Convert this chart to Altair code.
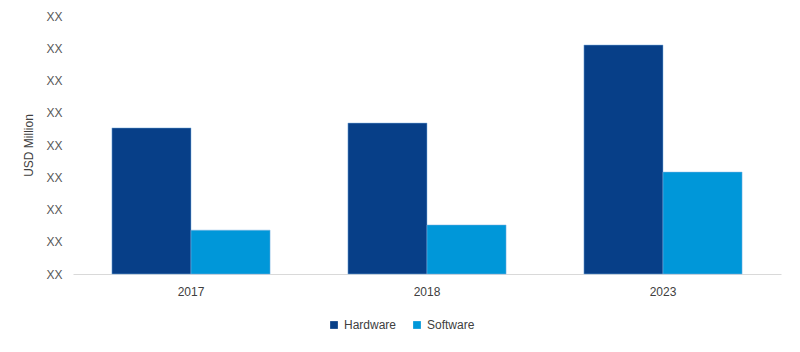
import altair as alt
import pandas as pd

years = ["2017", "2018", "2023"]
hardware = [4.53, 4.68, 7.10]
software = [1.36, 1.52, 3.16]
segments = ["Hardware", "Software"]
colors = ["#073f88", "#0097d9"]
y_ticks = [0, 1, 2, 3, 4, 5, 6, 7, 8]

rows = []
for i, y in enumerate(years):
    rows.append({"year": y, "segment": "Hardware", "value": hardware[i]})
    rows.append({"year": y, "segment": "Software", "value": software[i]})
df = pd.DataFrame(rows)

font = "Liberation Sans"

chart = alt.Chart(df).mark_bar(stroke="#7fb0e0", strokeWidth=0.5).encode(
    x=alt.X("year:N", title=None, sort=years,
            scale=alt.Scale(paddingInner=0.33, paddingOuter=0.165),
            axis=alt.Axis(labelAngle=0, ticks=False, domainColor="#d9d9d9",
                          labelColor="#404040", labelFont=font, labelFontSize=12,
                          labelPadding=12, grid=False)),
    xOffset=alt.XOffset("segment:N", sort=segments),
    y=alt.Y("value:Q", title="USD Million",
            scale=alt.Scale(domain=[0, 8], nice=False),
            axis=alt.Axis(values=y_ticks, labelExpr="'XX'", ticks=False, domain=False,
                          grid=False, labelColor="#595959", labelFont=font,
                          labelFontSize=12, labelPadding=11,
                          titleFont=font, titleFontSize=12, titleFontWeight="normal",
                          titleColor="#404040", titlePadding=10)),
    color=alt.Color("segment:N", sort=segments,
                    scale=alt.Scale(domain=segments, range=colors),
                    legend=alt.Legend(title=None, orient="none", direction="horizontal",
                                      legendX=255, legendY=303, symbolType="square",
                                      symbolSize=60, symbolStrokeWidth=0,
                                      labelFont=font, labelFontSize=12,
                                      labelColor="#404040", columnPadding=14,
                                      labelOffset=4)),
).properties(
    width=708, height=258,
    background="white",
    autosize=alt.AutoSizeParams(type="none"),
    padding={"left": 73, "top": 16, "right": 19, "bottom": 78},
).configure_view(stroke=None, strokeWidth=0)

chart.save("out.html", embed_options={"renderer": "svg", "actions": False})
